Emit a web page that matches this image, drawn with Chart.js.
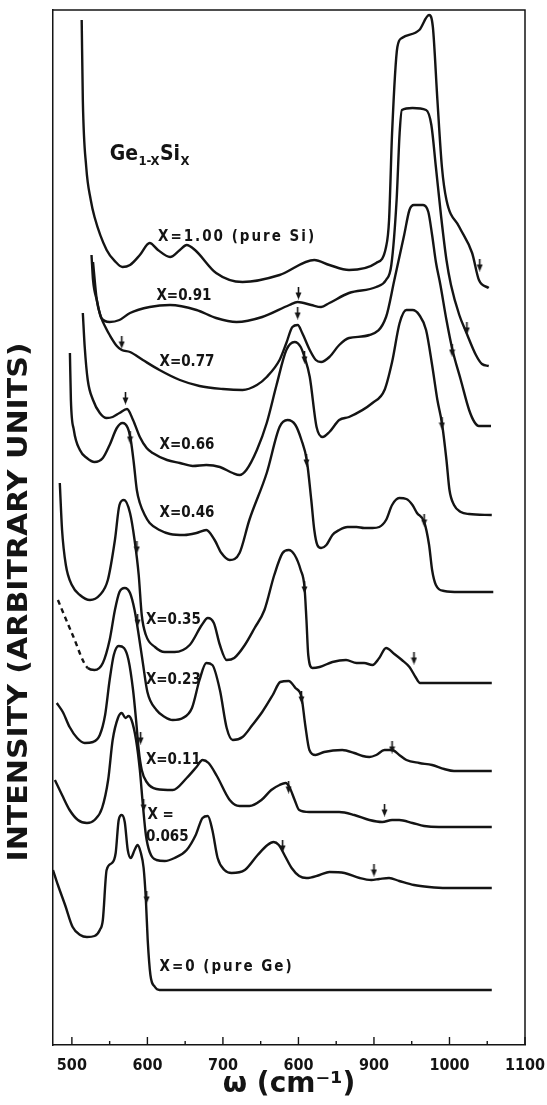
<!DOCTYPE html>
<html>
<head>
<meta charset="utf-8">
<script src="https://cdn.jsdelivr.net/npm/chart.js@4.4.1/dist/chart.umd.min.js"></script>
<style>
  html, body { margin: 0; padding: 0; background: #fff; }
  canvas { display: block; }
</style>
</head>
<body>
<canvas id="spectra" width="547" height="1105"></canvas>
<script>
/////////////////////////////////// DATA ///////////////////////////////////
// wavenumber in cm-1, intensity in arbitrary units (curves are offset vertically)
const tickValues = [500, 600, 700, 800, 900, 1000, 1100];
const tickLabels = ['500', '600', '700', '600', '900', '1000', '1100'];
const minorTicks = [550, 650, 750, 850, 950, 1050];

const si100 = [[513,102.5],[514.5,94.5],[519,87.8],[525,84.5],[530,82.8],[546,79.5],[558,78.3],[567,77.8],[577,78.0],[590,79.0],[603,80.2],[614,79.5],[630,78.8],[643,79.5],[652,80.0],[663,79.5],[691,77.2],[726,76.3],[775,77.0],[821,78.5],[841,78.0],[867,77.5],[903,78.2],[916,79.8],[920,82.5],[924,91.2],[931,99.8],[937,100.7],[960,101.5],[973,103.0],[978,101.8],[984,94.5],[990,87.8],[996,84.5],[1013,81.8],[1030,79.2],[1039,76.5],[1052,75.7]];
const x091 = [[526,79.0],[528,76.5],[533,74.5],[539,72.7],[550,72.3],[563,72.5],[577,73.2],[603,73.8],[630,74.0],[665,73.5],[691,72.7],[718,72.3],[752,72.8],[788,74.0],[799,74.3],[817,74.0],[830,73.8],[841,74.2],[867,75.2],[903,75.8],[916,76.5],[923,78.0],[930,84.5],[934,91.2],[937,93.5],[951,93.7],[969,93.5],[976,92.0],[982,87.8],[989,82.8],[996,78.5],[1002,76.0],[1013,73.0],[1022,71.3],[1035,69.0],[1043,68.1],[1052,67.9]];
const x077 = [[528,78.3],[533,74.5],[539,72.7],[545,71.7],[550,71.0],[559.5,69.9],[566,69.5],[577,69.3],[594,68.5],[616,67.5],[643,66.5],[669,65.9],[700,65.6],[726,65.5],[745,66.0],[758,66.8],[775,68.5],[784,70.2],[792,71.8],[799,72.0],[805,71.2],[815,69.5],[823,68.5],[830,68.3],[841,68.8],[854,70.0],[867,70.7],[894,71.0],[916,72.8],[927,76.5],[940,81.0],[947,83.5],[953,84.0],[965,84.0],[972,83.3],[977,81.0],[982,78.3],[988,76.0],[996,72.5],[1004,69.5],[1015,66.5],[1026,63.5],[1033,62.3],[1039,61.9],[1055,61.9]];
const x066 = [[514.5,73.2],[517,69.8],[521,66.5],[528,64.5],[537,63.2],[546,62.7],[554,62.8],[563,63.2],[573,63.6],[581,62.5],[590,60.8],[599,59.7],[607,59.2],[626,58.5],[643,58.2],[660,57.9],[678,58.0],[696,57.8],[713,57.2],[722,57.0],[731,57.5],[745,59.5],[758,62.2],[771,66.0],[784,69.5],[795,70.3],[803,69.8],[808,68.8],[815,66.8],[824,61.8],[832,60.8],[841,61.3],[854,62.5],[867,62.8],[898,64.2],[914,65.5],[924,68.3],[934,72.2],[943,73.5],[951,73.5],[960,73.0],[969,71.5],[977,68.0],[984,64.5],[990,62.2],[996,58.5],[1000,55.5],[1006,54.0],[1015,53.3],[1026,53.1],[1056,53.0]];
const x046 = [[497.4,69.2],[498.7,64.5],[502.6,61.5],[510.6,59.5],[519.8,58.7],[530,58.3],[541,58.7],[550,60.0],[559.5,61.7],[567,62.2],[574,61.7],[578,60.5],[582,58.2],[586,55.5],[590,54.2],[596.5,53.0],[603,52.2],[616,51.5],[630,51.1],[649,51.0],[665,51.2],[678,51.5],[689,50.5],[698,49.2],[709,48.5],[722,49.2],[735,52.5],[758,57.2],[775,61.8],[785.5,62.5],[796,62.0],[804,60.5],[811,58.5],[817,54.5],[821,51.5],[825,50.0],[830,49.7],[837,50.0],[845,51.0],[854,51.5],[865,51.8],[877,51.8],[887,51.7],[898,51.7],[907,51.8],[916,52.5],[924,54.0],[933.5,54.7],[943,54.6],[951,54.0],[957,53.2],[966.5,52.3],[973,50.0],[977,47.5],[982,46.0],[993,45.4],[1013,45.3],[1058,45.3]];
const x035 = [[484,56.2],[487,51.5],[492,48.0],[500,46.0],[510.6,45.0],[524,44.5],[537,45.0],[547.6,46.5],[557,50.5],[563,54.0],[569,54.5],[577,53.2],[583,50.5],[588.5,47.0],[592.5,43.0],[598,41.0],[610,39.8],[623,39.3],[636,39.3],[656,40.0],[672,42.0],[680,42.7],[688,42.2],[696,40.0],[705,38.5],[715,38.7],[729,40.0],[742,41.7],[755,43.5],[768,47.0],[779,49.2],[787,49.5],[795,49.0],[803,47.5],[808,45.8],[810.6,42.5],[813,39.0],[818.5,37.7],[828,37.8],[845,38.3],[863,38.5],[877,38.2],[887,38.2],[898,38.0],[907,38.7],[916,39.7],[927,39.1],[937,38.5],[947,37.8],[955,36.8],[961,36.2],[973,36.2],[1056,36.2]];
const x023 = [[481.5,44.5],[501,41.0],[521,37.7],[530,37.5],[541,38.2],[550,40.5],[557,43.5],[563,45.3],[570,45.7],[577,45.2],[583,43.5],[588.5,41.0],[594,38.2],[600,35.3],[612,33.5],[623,32.8],[633.5,32.5],[647,32.7],[659,33.7],[669,36.5],[678,38.2],[686,38.0],[696,35.5],[705,31.7],[713,30.5],[726,30.8],[739,32.0],[752,33.3],[766,35.0],[776,36.3],[787,36.4],[796,35.7],[804,34.8],[809,32.0],[814.5,29.5],[822.5,29.0],[834,29.3],[858,29.5],[874,29.2],[885,28.9],[894,28.8],[903,29.0],[914,29.5],[924,29.5],[933.5,29.0],[943,28.5],[960,28.2],[977,28.0],[993,27.6],[1006,27.4],[1056,27.4]];
const x011 = [[480,34.2],[488,33.3],[497,31.8],[507,30.7],[517,30.2],[528,30.3],[537,31.0],[544,33.0],[550,36.5],[555.5,39.0],[562,39.9],[569,39.7],[575,38.5],[581,35.5],[585,32.5],[588.5,29.5],[592.5,27.5],[599,26.3],[612,25.6],[633.5,25.5],[652,26.7],[665,27.8],[673,28.5],[681,28.2],[692,26.9],[709,24.5],[722,23.9],[735,23.9],[751,24.5],[764,25.5],[775,26.0],[783,26.2],[788,25.8],[795,24.5],[801,23.5],[814.5,23.3],[854,23.3],[874,23.0],[894,22.5],[911,22.3],[924,22.5],[933.5,22.5],[951,22.2],[966.5,21.9],[986,21.8],[1056,21.8]];
const x0065 = [[477.5,26.5],[487,25.0],[497,23.5],[508,22.5],[520,22.2],[530,22.5],[540,23.7],[548,26.5],[554,30.5],[561,32.7],[566,33.2],[571,32.7],[575,32.9],[579,32.5],[585,30.5],[590,27.5],[594,24.0],[598,21.0],[603,19.3],[612,18.5],[623,18.4],[636,18.7],[652,19.5],[664,21.0],[673,22.7],[680,22.9],[686,21.5],[693,18.7],[702,17.5],[711.5,17.2],[729,17.5],[746,19.0],[759,20.0],[767,20.3],[774,20.0],[781.5,19.0],[791,17.7],[801,16.9],[810.6,16.7],[828,17.0],[841,17.3],[861,17.2],[881,16.7],[896.5,16.5],[907,16.6],[920,16.7],[933.5,16.4],[953,16.0],[973,15.8],[996,15.7],[1056,15.7]];
const ge000 = [[475,17.5],[481.5,16.0],[491,14.0],[501,11.8],[511,11.0],[520,10.8],[530,10.9],[537,11.5],[541,12.5],[546,17.5],[553,18.2],[558,19.2],[562,22.5],[566,23.0],[570,22.3],[574,19.5],[578,18.7],[583,19.5],[587,20.0],[591,19.3],[595,17.7],[598,14.5],[600.4,10.5],[604,7.0],[610,5.8],[616,5.5],[1056,5.5]];

// small arrows marking the mode positions
const arrowMarks = [[1040,78.0],[800,75.2],[1023,71.7],[566,70.3],[799,73.2],[1003.5,69.5],[571,64.7],[808,68.8],[990,62.2],[577,60.8],[810.6,58.5],[966.5,52.5],[586,49.8],[808,45.8],[953,38.7],[587,42.5],[804,34.8],[924,29.8],[591,30.7],[787,25.8],[914,23.5],[595,24.0],[779,19.9],[900,17.5],[599,14.8]];

const curveLabels = ['X=1.00 (pure Si)', 'X=0.91', 'X=0.77', 'X=0.66', 'X=0.46', 'X=0.35', 'X=0.23', 'X=0.11', 'X =', '0.065', 'X=0 (pure Ge)'];
const labelAnchors = [[614,80.8],[612,74.9],[616,68.3],[616,60.0],[616,53.2],[598,42.5],[598,36.5],[598,28.5],[600,23.0],[598,20.8],[616,7.8]];
const formulaAnchor = [550, 89.0];

/////////////////////////////////// HELPERS ///////////////////////////////////
const INK = '#141414';
const LABEL_FONT = 'bold 15px "DejaVu Sans Condensed", "DejaVu Sans", sans-serif';

function makeArrow() {
    const c = document.createElement('canvas');
    c.width = 7;
    c.height = 13;
    const g = c.getContext('2d');
    g.strokeStyle = INK;
    g.fillStyle = INK;
    g.lineWidth = 1.6;
    g.beginPath();
    g.moveTo(3.5, 0);
    g.lineTo(3.5, 9);
    g.stroke();
    g.beginPath();
    g.moveTo(0.5, 6);
    g.lineTo(6.5, 6);
    g.lineTo(3.5, 13);
    g.closePath();
    g.fill();
    return c;
}

const curves = [si100, x091, x077, x066, x046, x035, x023, x011, x0065, ge000];

const datasets = curves.map((pts, i) => ({
    type: 'line',
    data: pts.map(([x, y]) => ({ x, y })),
    borderColor: INK,
    borderWidth: 2.4,
    pointRadius: 0,
    fill: false,
    cubicInterpolationMode: 'monotone',
    segment: i === 6 ? { borderDash: ctx => (ctx.p1DataIndex <= 2 ? [5, 4] : undefined) } : undefined
}));

datasets.push({
    type: 'scatter',
    data: arrowMarks.map(([x, y]) => ({ x, y })),
    pointStyle: makeArrow(),
    pointRadius: 6,
    showLine: false
});

/////////////////////////////////// PLUGINS ///////////////////////////////////
const framePlugin = {
    id: 'frame',
    afterDraw(chart) {
        const { ctx, chartArea: a, scales: { x } } = chart;
        ctx.save();
        ctx.strokeStyle = INK;
        ctx.lineWidth = 1.5;
        ctx.beginPath();
        ctx.moveTo(a.left, a.top);
        ctx.lineTo(a.right, a.top);
        ctx.lineTo(a.right, a.bottom);
        ctx.stroke();
        // ticks point inward
        ctx.lineWidth = 1.4;
        tickValues.forEach(v => {
            const px = x.getPixelForValue(v);
            ctx.beginPath();
            ctx.moveTo(px, a.bottom);
            ctx.lineTo(px, a.bottom - 8);
            ctx.stroke();
        });
        minorTicks.forEach(v => {
            const px = x.getPixelForValue(v);
            ctx.beginPath();
            ctx.moveTo(px, a.bottom);
            ctx.lineTo(px, a.bottom - 4);
            ctx.stroke();
        });
        ctx.restore();
    }
};

const textPlugin = {
    id: 'texts',
    afterDatasetsDraw(chart) {
        const { ctx, scales: { x, y } } = chart;
        ctx.save();
        ctx.fillStyle = INK;
        ctx.textBaseline = 'middle';
        ctx.textAlign = 'left';
        ctx.font = LABEL_FONT;
        curveLabels.forEach((t, i) => {
            // the long labels are set wider in the original
            ctx.letterSpacing = t.length > 8 ? '2px' : '0px';
            ctx.fillText(t, x.getPixelForValue(labelAnchors[i][0]), y.getPixelForValue(labelAnchors[i][1]));
        });
        ctx.letterSpacing = '0px';

        // Ge1-xSix
        let fx = x.getPixelForValue(formulaAnchor[0]);
        const fy = y.getPixelForValue(formulaAnchor[1]);
        const parts = [['Ge', 0], ['1-X', 1], ['Si', 0], ['X', 1]];
        parts.forEach(([t, sub]) => {
            ctx.font = sub ? 'bold 13px "DejaVu Sans Condensed", sans-serif' : 'bold 21px "DejaVu Sans Condensed", sans-serif';
            ctx.fillText(t, fx, fy + (sub ? 7 : 0));
            fx += ctx.measureText(t).width + 0.5;
        });

        // vertical axis title
        const title = 'INTENSITY (ARBITRARY UNITS)';
        ctx.font = 'bold 27px "DejaVu Sans", sans-serif';
        const w = ctx.measureText(title).width;
        ctx.translate(20, 602);
        ctx.rotate(-Math.PI / 2);
        ctx.scale(519 / w, 1);
        ctx.textAlign = 'center';
        ctx.fillText(title, 0, 0);
        ctx.restore();
    }
};

/////////////////////////////////// CHART ///////////////////////////////////
const chart = new Chart(document.getElementById('spectra'), {
    type: 'line',
    data: { datasets },
    options: {
        responsive: false,
        animation: false,
        layout: { padding: { top: 10, right: 22, left: 0, bottom: 0 } },
        plugins: { legend: { display: false }, tooltip: { enabled: false } },
        scales: {
            x: {
                type: 'linear',
                min: 475,
                max: 1100,
                grid: { display: false, drawTicks: false },
                border: { display: true, color: INK, width: 1.5 },
                afterBuildTicks: s => { s.ticks = tickValues.map(v => ({ value: v })); },
                afterFit: s => { s.height = 60; s.paddingLeft = 0; s.paddingRight = 0; },
                ticks: {
                    autoSkip: false,
                    maxRotation: 0,
                    padding: 11,
                    color: INK,
                    font: { family: '"DejaVu Sans Condensed", "DejaVu Sans", sans-serif', size: 16, weight: 'bold' },
                    callback: (v, i) => tickLabels[i]
                },
                title: {
                    display: true,
                    text: 'ω (cm⁻¹)',
                    color: INK,
                    font: { family: '"DejaVu Sans", sans-serif', size: 28, weight: 'bold' },
                    padding: { top: 0, bottom: 3 }
                }
            },
            y: {
                min: 0,
                max: 103.5,
                grid: { display: false, drawTicks: false },
                border: { display: true, color: INK, width: 1.5 },
                ticks: { display: false },
                afterFit: s => { s.width = 53; }
            }
        }
    },
    plugins: [framePlugin, textPlugin]
});
</script>
</body>
</html>
